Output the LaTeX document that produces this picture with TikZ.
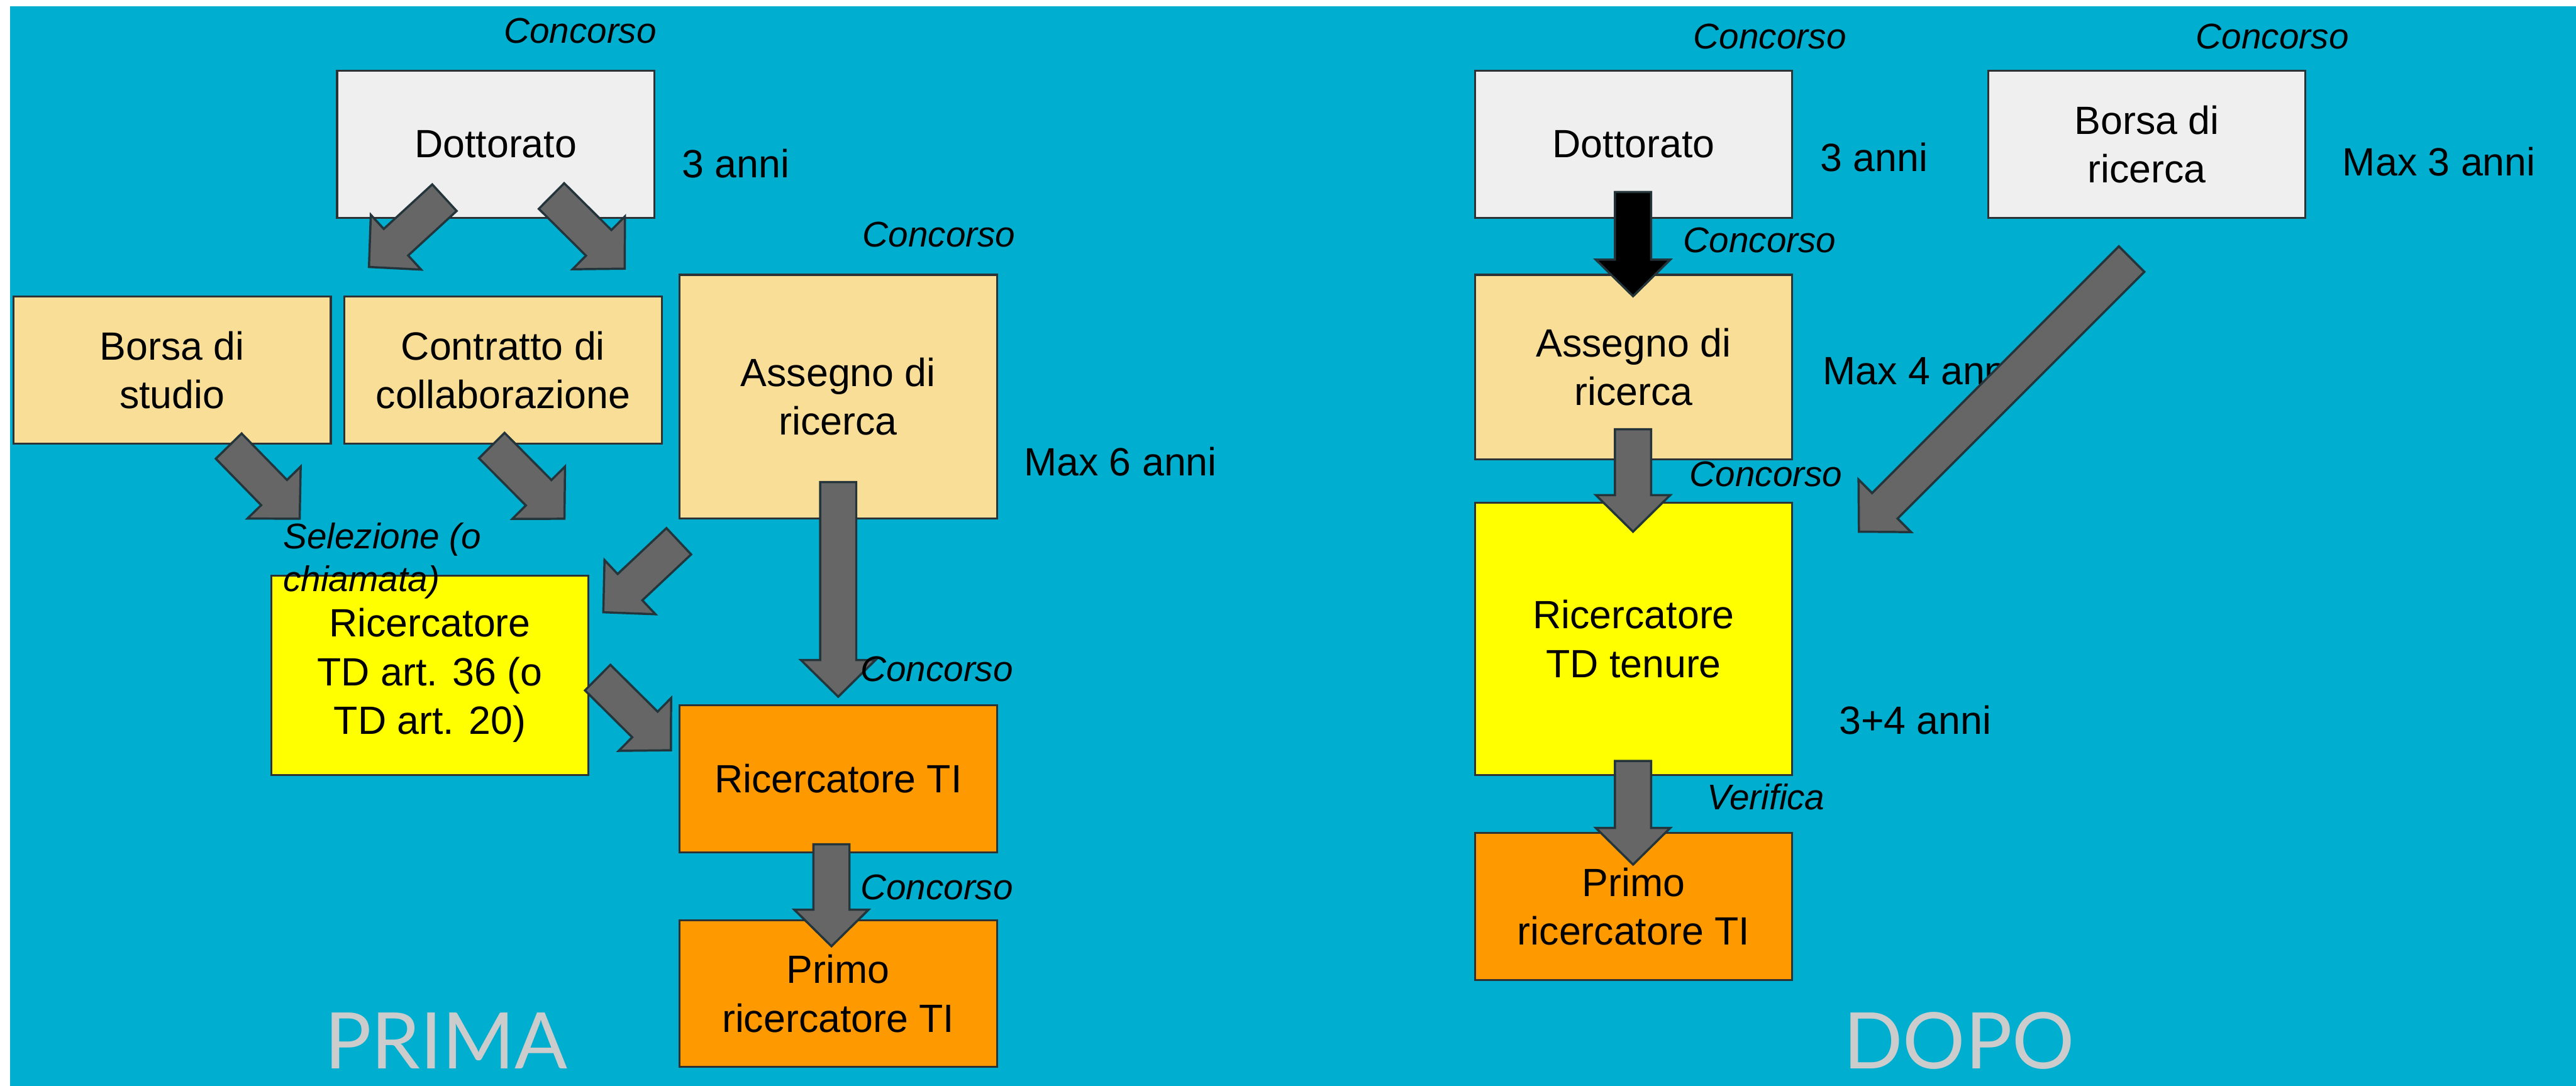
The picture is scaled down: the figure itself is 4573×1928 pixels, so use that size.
\documentclass[tikz,border=0pt]{standalone}
\usepackage{fontspec}
\setmainfont{Liberation Sans}
\newfontfamily\latofont{Lato}
\usetikzlibrary{calc}
\definecolor{bgcyan}{RGB}{0,175,207}
\definecolor{boxgray}{RGB}{239,239,239}
\definecolor{boxcream}{RGB}{249,222,152}
\definecolor{boxyellow}{RGB}{255,255,0}
\definecolor{boxorange}{RGB}{255,153,0}
\definecolor{boxline}{RGB}{45,50,52}
\definecolor{arrowfill}{RGB}{102,102,102}
\definecolor{arrowline}{RGB}{35,52,58}
\definecolor{titlegray}{RGB}{204,204,204}
\newcommand\mainsize{\fontsize{19.9pt}{24.5pt}\selectfont}
\newcommand\labsize{\fontsize{18pt}{21.3pt}\selectfont\itshape}
\newcommand\blockarrow[3][arrowfill]{%
  \coordinate (neck) at ($(#3)!0.65cm!(#2)$);
  \draw[barrow, fill=#1] ($(#2)!0.32cm!90:(#3)$) -- ($(neck)!0.32cm!-90:(#2)$) -- ($(neck)!0.66cm!-90:(#2)$) -- (#3) -- ($(neck)!0.66cm!90:(#2)$) -- ($(neck)!0.32cm!90:(#2)$) -- ($(#2)!0.32cm!-90:(#3)$) -- cycle;}
\tikzset{
  box/.style={draw=boxline, line width=1pt, minimum width=5.63cm, minimum height=2.61cm, inner sep=0pt, align=center, font=\mainsize},
  lab/.style={font=\labsize, inner sep=0pt},
  dur/.style={font=\mainsize, inner sep=0pt, anchor=west},
  barrow/.style={draw=arrowline, line width=1.1pt, line join=miter},
  title/.style={font=\latofont\fontsize{39.4pt}{40pt}\selectfont, text=titlegray, inner sep=0pt}
}
\begin{document}
\begin{tikzpicture}[x=0.01cm, y=-0.01cm]
\useasboundingbox (0,0) rectangle (4573,1928);
\fill[white] (0,0) rectangle (4573,1928);
\fill[bgcyan] (18,11) rectangle (4573,1928);

% ---------- PRIMA ----------
\node[box, fill=boxgray] (ldott) at (880,256.5) {Dottorato};
\node[box, fill=boxcream] (lborsa) at (305.5,657) {Borsa di\\studio};
\node[box, fill=boxcream] (lcontr) at (893,657) {Contratto di\\collaborazione};
\node[box, fill=boxcream, minimum height=4.32cm] (lass) at (1488,704) {Assegno di\\ricerca};
\node[box, fill=boxyellow, minimum height=3.54cm] (lrtd) at (763,1199) {Ricercatore\\TD art. 36 (o\\TD art. 20)};
\node[box, fill=boxorange] (lrti) at (1488,1382.5) {Ricercatore TI};
\node[box, fill=boxorange, minimum height=2.60cm] (lprimo) at (1488,1764) {Primo\\ricercatore TI};

% ---------- DOPO ----------
\node[box, fill=boxgray] (rdott) at (2900,256.5) {Dottorato};
\node[box, fill=boxgray] (rborsa) at (3811,256.5) {Borsa di\\ricerca};
\node[box, fill=boxcream, minimum height=3.27cm] (rass) at (2900,651.5) {Assegno di\\ricerca};
\node[box, fill=boxyellow, minimum height=4.83cm] (rtdt) at (2900,1134.5) {Ricercatore\\TD tenure};
\node[box, fill=boxorange] (rprimo) at (2900,1609.5) {Primo\\ricercatore TI};

% durations
\node[dur] (d1) at (1210,290) {3 anni};
\node[dur] (d2) at (1817,820) {Max 6 anni};
\node[dur] (d3) at (3231,279) {3 anni};
\node[dur] (d4) at (4158,287) {Max 3 anni};
\node[dur] (d5) at (3235,658) {Max 4 anni};
\node[dur] (d6) at (3264,1278) {3+4 anni};

% arrow end points
\coordinate (a1s) at (789,351);   \coordinate (a1e) at (655,474);
\coordinate (a2s) at (979,348);   \coordinate (a2e) at (1109,477);
\coordinate (a3s) at (406,792);   \coordinate (a3e) at (532,921);
\coordinate (a4s) at (873,791);   \coordinate (a4e) at (1002,921);
\coordinate (a5s) at (1205,961);  \coordinate (a5e) at (1071,1087);
\coordinate (a6s) at (1061,1203); \coordinate (a6e) at (1191,1332);
\coordinate (a7s) at (1488,856);  \coordinate (a7e) at (1488,1237);
\coordinate (a8s) at (1476,1499); \coordinate (a8e) at (1476,1680);
\coordinate (b1s) at (2899,341);  \coordinate (b1e) at (2899,526);
\coordinate (b2s) at (2899,762);  \coordinate (b2e) at (2899,944);
\coordinate (b3s) at (3784,460);  \coordinate (b3e) at (3300,944);
\coordinate (b4s) at (2899,1351); \coordinate (b4e) at (2899,1535);

\blockarrow{a1s}{a1e}
\blockarrow{a2s}{a2e}
\blockarrow{a3s}{a3e}
\blockarrow{a4s}{a4e}
\blockarrow{a5s}{a5e}
\blockarrow{a6s}{a6e}
\blockarrow{a7s}{a7e}
\blockarrow{a8s}{a8e}
\blockarrow[black]{b1s}{b1e}
\blockarrow{b2s}{b2e}
\blockarrow{b3s}{b3e}
\blockarrow{b4s}{b4e}

% labels
\node[lab] (c1) at (1030,55) {Concorso};
\node[lab] (c2) at (1667,416) {Concorso};
\node[lab] (c3) at (1663,1188) {Concorso};
\node[lab] (c4) at (1663,1575) {Concorso};
\node[lab, anchor=north west, align=left] (sel) at (502,928) {Selezione (o\\chiamata)};
\node[lab] (c5) at (3142,65) {Concorso};
\node[lab] (c6) at (4034,65) {Concorso};
\node[lab] (c7) at (3124,427) {Concorso};
\node[lab] (c8) at (3135,842) {Concorso};
\node[lab] (ver) at (3135,1415) {Verifica};

\node[title] (prima) at (792,1848) {PRIMA};
\node[title] (dopo) at (3478,1848) {DOPO};
\end{tikzpicture}
\end{document}
